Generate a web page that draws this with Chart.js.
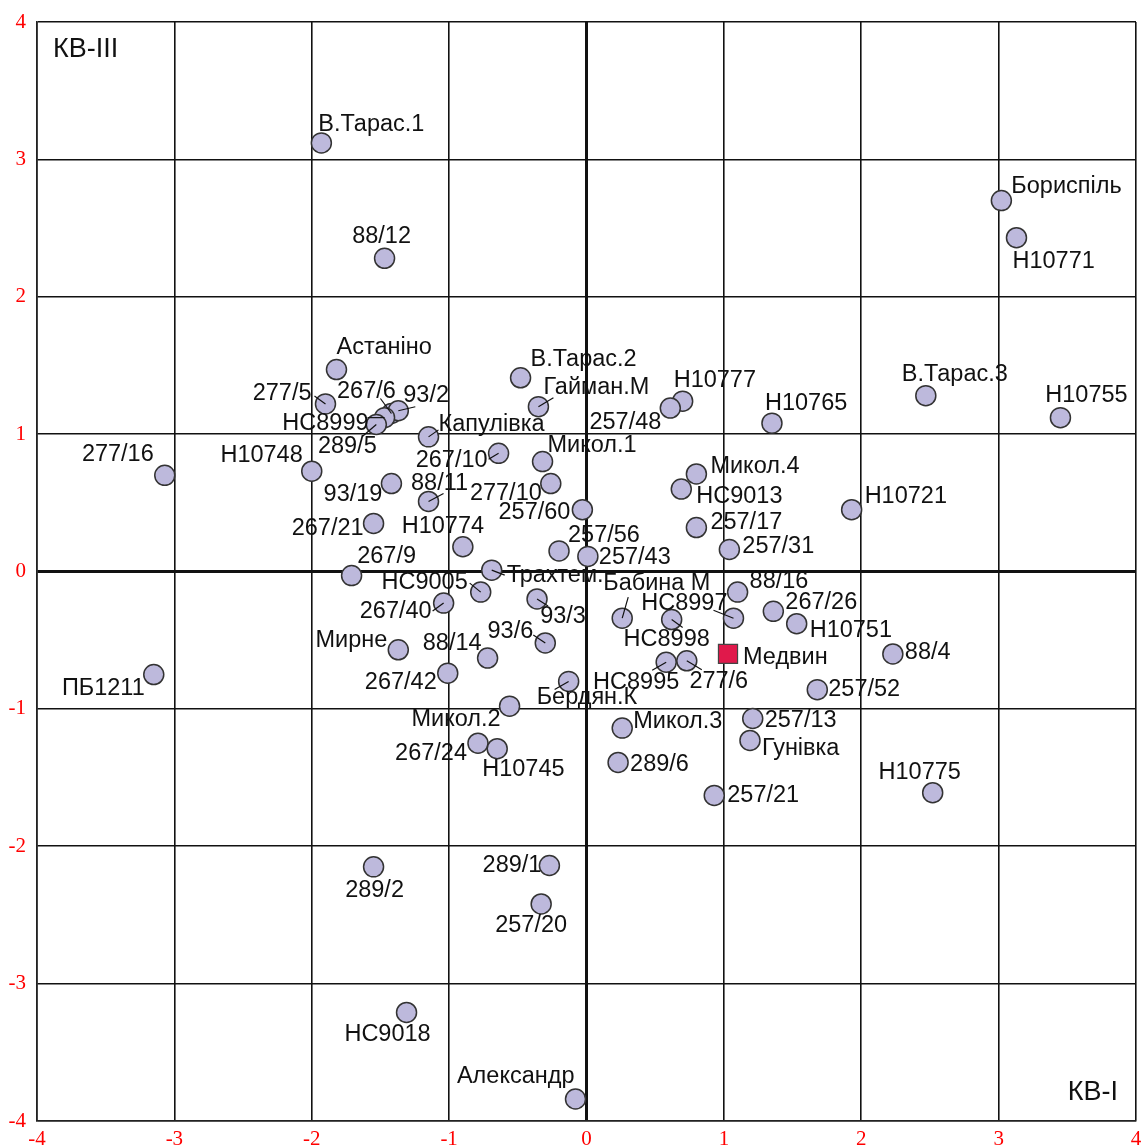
<!DOCTYPE html>
<html>
<head>
<meta charset="utf-8">
<script src="https://cdn.jsdelivr.net/npm/chart.js@4/dist/chart.umd.min.js"></script>
<style>
  html, body { margin: 0; padding: 0; background: #fff; }
  canvas { display: block; }
</style>
</head>
<body>
<canvas id="chart" width="1144" height="1147"></canvas>
<script>
// ===== Data =====
const names = [
  "В.Тарас.1", "88/12", "Бориспіль", "Н10771", "Астаніно", "277/5", "267/6", "93/2",
  "НС8999", "289/5", "Капулівка", "Н10748", "277/16", "93/19", "88/11", "267/21",
  "Н10774", "267/9", "В.Тарас.2", "Гайман.М", "Н10777", "257/48", "267/10", "Микол.1",
  "277/10", "257/60", "257/56", "257/43", "Микол.4", "НС9013", "257/17", "257/31",
  "Н10765", "В.Тарас.3", "Н10755", "Н10721", "Трахтем.", "НС9005", "267/40", "93/3",
  "93/6", "Мирне", "88/14", "267/42", "Бердян.К", "Микол.2", "267/24", "Н10745",
  "Бабина М", "НС8997", "НС8998", "88/16", "267/26", "Н10751", "НС8995", "277/6",
  "88/4", "257/52", "Микол.3", "257/13", "Гунівка", "289/6", "257/21", "Н10775",
  "ПБ1211", "289/2", "289/1", "257/20", "НС9018", "Александр"
];
const xVals = [
  -1.93, -1.47, 3.02, 3.13, -1.82, -1.90, -1.42, -1.37,
  -1.47, -1.53, -1.15, -2.00, -3.07, -1.42, -1.15, -1.55,
  -0.90, -1.71, -0.48, -0.35, 0.70, 0.61, -0.64, -0.32,
  -0.26, -0.03, -0.20, 0.01, 0.80, 0.69, 0.80, 1.04,
  1.35, 2.47, 3.45, 1.93, -0.69, -0.77, -1.04, -0.36,
  -0.30, -1.37, -0.72, -1.01, -0.13, -0.56, -0.79, -0.65,
  0.26, 1.07, 0.62, 1.10, 1.36, 1.53, 0.58, 0.73,
  2.23, 1.68, 0.26, 1.21, 1.19, 0.23, 0.93, 2.52,
  -3.15, -1.55, -0.27, -0.33, -1.31, -0.08
];
const yVals = [
  3.12, 2.28, 2.70, 2.43, 1.47, 1.22, 1.15, 1.17,
  1.12, 1.07, 0.98, 0.73, 0.70, 0.64, 0.51, 0.35,
  0.18, -0.03, 1.41, 1.20, 1.24, 1.19, 0.86, 0.80,
  0.64, 0.45, 0.15, 0.11, 0.71, 0.60, 0.32, 0.16,
  1.08, 1.28, 1.12, 0.45, 0.01, -0.15, -0.23, -0.20,
  -0.52, -0.57, -0.63, -0.74, -0.80, -0.98, -1.25, -1.29,
  -0.34, -0.34, -0.35, -0.15, -0.29, -0.38, -0.66, -0.65,
  -0.60, -0.86, -1.14, -1.07, -1.23, -1.39, -1.63, -1.61,
  -0.75, -2.15, -2.14, -2.42, -3.21, -3.84
];

// highlighted site
const refName = ["Медвин"];
const refX = [1.03];
const refY = [-0.60];

const axisTicks = [-4, -3, -2, -1, 0, 1, 2, 3, 4];

// label placement: [dx, dy, align] in px from the point; l = starts there, r = ends there, c = centred
const labelPos = {
  "В.Тарас.1": [-3, -18, "l"], "88/12": [-3, -22, "c"], "Бориспіль": [10, -14, "l"],
  "Н10771": [-4, 24, "l"], "Астаніно": [0, -22, "l"], "277/5": [-14, -10, "r"],
  "267/6": [-25, -22, "c"], "93/2": [5, -15, "l"], "НС8999": [-16, 6, "r"],
  "289/5": [-29, 22, "c"], "Капулівка": [10, -12, "l"], "Н10748": [-9, -16, "r"],
  "277/16": [-11, -21, "r"], "93/19": [-9, 11, "r"], "88/11": [11, -18, "c"],
  "267/21": [-10, 5, "r"], "Н10774": [-20, -20, "c"], "267/9": [35, -19, "c"],
  "В.Тарас.2": [10, -18, "l"], "Гайман.М": [5, -19, "l"], "Н10777": [-9, -21, "l"],
  "257/48": [-9, 14, "r"], "267/10": [-11, 7, "r"], "Микол.1": [5, -16, "l"],
  "277/10": [-9, 10, "r"], "257/60": [-12, 3, "r"], "257/56": [9, -15, "l"],
  "257/43": [11, 1, "l"], "Микол.4": [14, -7, "l"], "НС9013": [15, 7, "l"],
  "257/17": [14, -5, "l"], "257/31": [13, -3, "l"], "Н10765": [-7, -20, "l"],
  "В.Тарас.3": [29, -21, "c"], "Н10755": [26, -22, "c"], "Н10721": [13, -13, "l"],
  "Трахтем.": [15, 5, "l"], "НС9005": [-13, -10, "r"], "267/40": [-12, 8, "r"],
  "93/3": [26, 18, "c"], "93/6": [-12, -11, "r"], "Мирне": [-11, -9, "r"],
  "88/14": [-6, -15, "r"], "267/42": [-11, 9, "r"], "Бердян.К": [-32, 16, "l"],
  "Микол.2": [-9, 13, "r"], "267/24": [-11, 10, "r"], "Н10745": [-15, 21, "l"],
  "Бабина М": [-19, -35, "l"], "НС8997": [-6, -15, "r"], "НС8998": [-5, 20, "c"],
  "88/16": [12, -11, "l"], "267/26": [12, -9, "l"], "Н10751": [13, 7, "l"],
  "НС8995": [-30, 20, "c"], "277/6": [32, 21, "c"], "88/4": [12, -1, "l"],
  "257/52": [11, 0, "l"], "Микол.3": [11, -7, "l"], "257/13": [12, 2, "l"],
  "Гунівка": [12, 8, "l"], "289/6": [12, 2, "l"], "257/21": [13, 0, "l"],
  "Н10775": [-13, -20, "c"], "ПБ1211": [-9, 14, "r"], "289/2": [1, 24, "c"],
  "289/1": [-8, 0, "r"], "257/20": [-10, 22, "c"], "НС9018": [-19, 22, "c"],
  "Александр": [-1, -23, "r"], "Медвин": [15, 4, "l"]
};

// short leader lines from the point centre
const leaders = {
  "277/5": [-11, -8], "267/6": [-11, -15], "93/2": [17, -4], "НС8999": [-17, 0],
  "289/5": [-14, 12], "Капулівка": [10, -7], "88/11": [15, -8], "Гайман.М": [15, -9],
  "267/10": [-10, 6], "Трахтем.": [13, 5], "НС9005": [-11, -9], "267/40": [-11, 8],
  "93/3": [11, 7], "93/6": [-12, -8], "Бердян.К": [-14, 8], "Бабина М": [6, -21],
  "НС8997": [-20, -8], "НС8998": [11, 8], "НС8995": [-14, 8], "277/6": [15, 9]
};

// ===== Plugins =====
const pointLabels = {
  id: "pointLabels",
  afterDatasetsDraw(chart) {
    const { ctx, scales: { x, y }, chartArea } = chart;
    const allNames = names.concat(refName);
    const allX = xVals.concat(refX);
    const allY = yVals.concat(refY);

    ctx.save();
    ctx.strokeStyle = "#111";
    ctx.lineWidth = 1.2;
    allNames.forEach((n, i) => {
      const l = leaders[n];
      if (!l) return;
      const px = x.getPixelForValue(allX[i]);
      const py = y.getPixelForValue(allY[i]);
      ctx.beginPath();
      ctx.moveTo(px, py);
      ctx.lineTo(px + l[0], py + l[1]);
      ctx.stroke();
    });

    ctx.font = '23.5px "Liberation Sans", Arial, sans-serif';
    ctx.fillStyle = "#111";
    ctx.textBaseline = "middle";
    allNames.forEach((n, i) => {
      const p = labelPos[n] || [12, 0, "l"];
      const px = x.getPixelForValue(allX[i]);
      const py = y.getPixelForValue(allY[i]);
      ctx.textAlign = p[2] === "r" ? "right" : p[2] === "c" ? "center" : "left";
      ctx.fillText(n, px + p[0], py + p[1]);
    });

    // quadrant captions
    ctx.font = '27px "Liberation Sans", Arial, sans-serif';
    ctx.textAlign = "left";
    ctx.fillText("КВ-III", chartArea.left + 16, chartArea.top + 28);
    ctx.textAlign = "right";
    ctx.fillText("КВ-I", chartArea.right - 18, chartArea.bottom - 28);
    ctx.restore();
  }
};

// ===== Chart =====
const gridWidth = c => (c.tick && c.tick.value === 0 ? 3 : 1.6);

const axis = (fitFn) => ({
  type: "linear",
  min: -4,
  max: 4,
  afterBuildTicks: s => { s.ticks = axisTicks.map(v => ({ value: v })); },
  afterFit: s => {
    fitFn(s);
    s.paddingLeft = s.paddingRight = s.paddingTop = s.paddingBottom = 0;
  },
  grid: { color: "#111", lineWidth: gridWidth, drawTicks: false },
  border: { display: true, color: "#222", width: 1.6 },
  ticks: {
    color: "#ff0000",
    font: { family: '"Liberation Serif", "Times New Roman", serif', size: 21 },
    padding: 6,
    maxRotation: 0
  }
});

const xAxis = axis(s => { s.height = 26; });
const yAxis = axis(s => { s.width = 37; });
yAxis.ticks.padding = 11;

new Chart(document.getElementById("chart"), {
  type: "scatter",
  data: {
    datasets: [
      {
        data: xVals.map((v, i) => ({ x: v, y: yVals[i] })),
        pointRadius: 10,
        backgroundColor: "#bdb9dc",
        borderColor: "#333",
        borderWidth: 1.5
      },
      {
        data: refX.map((v, i) => ({ x: v, y: refY[i] })),
        pointStyle: "rect",
        pointRadius: 13.5,
        backgroundColor: "#e0194b",
        borderColor: "#444",
        borderWidth: 1.2
      }
    ]
  },
  options: {
    responsive: false,
    animation: false,
    devicePixelRatio: 1,
    layout: { autoPadding: false, padding: { top: 22, right: 8, left: 0, bottom: 0 } },
    plugins: { legend: { display: false }, tooltip: { enabled: false } },
    scales: { x: xAxis, y: yAxis }
  },
  plugins: [pointLabels]
});
</script>
</body>
</html>
